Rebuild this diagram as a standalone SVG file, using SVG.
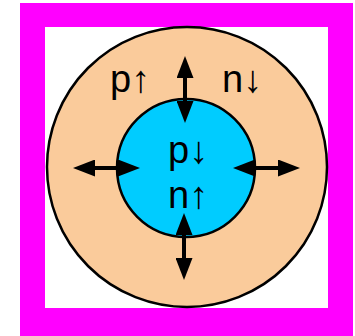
<svg xmlns="http://www.w3.org/2000/svg" width="355" height="336" viewBox="0 0 355 336">
<style>
.lbl{font-family:"Liberation Sans",Arial,sans-serif;font-size:38px;fill:#000;text-anchor:middle}
.ln{stroke:#000;stroke-width:4;fill:none}
</style>
<defs>
<marker id="ah" viewBox="0 0 22 17" refX="12" refY="8.5" markerWidth="22" markerHeight="17" markerUnits="userSpaceOnUse" orient="auto-start-reverse">
<path d="M0,0 L22,8.5 L0,17 z" fill="#000"/>
</marker>
</defs>
<rect x="20" y="3" width="333" height="333" fill="#FF00FF"/>
<rect x="45" y="27" width="283" height="281" fill="#FFFFFF"/>
<g id="outer">
<circle cx="187" cy="167" r="140" fill="#FACB9B" stroke="#000" stroke-width="2.5"/>
</g>
<g id="inner">
<circle cx="186" cy="168" r="69" fill="#00CCFF" stroke="#000" stroke-width="2.5"/>
</g>
<g id="connectors">
<line class="ln" x1="185" y1="66" x2="185" y2="113" marker-start="url(#ah)" marker-end="url(#ah)"/>
<line class="ln" x1="184" y1="223" x2="184" y2="270" marker-start="url(#ah)" marker-end="url(#ah)"/>
<line class="ln" x1="83" y1="168" x2="130" y2="168" marker-start="url(#ah)" marker-end="url(#ah)"/>
<line class="ln" x1="243" y1="168" x2="290" y2="168" marker-start="url(#ah)" marker-end="url(#ah)"/>
</g>
<g id="labels">
<text class="lbl" x="130" y="92">p↑</text>
<text class="lbl" x="242" y="92">n↓</text>
<text class="lbl" x="188" y="163">p↓</text>
<text class="lbl" x="188" y="208">n↑</text>
</g>
</svg>
